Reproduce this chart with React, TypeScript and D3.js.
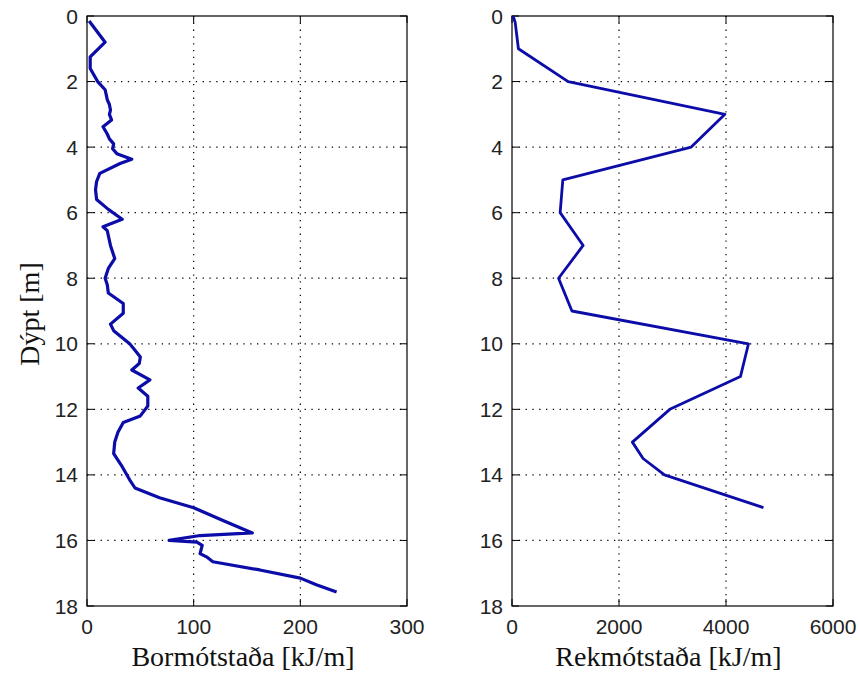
import React from "react";
import * as d3 from "d3";

const leftDepth = [0.15, 0.8, 1.25, 1.6, 2.0, 2.25, 2.4, 2.55, 2.7, 2.87, 3.0, 3.17, 3.38, 3.6, 3.75, 3.9, 4.05, 4.2, 4.37, 4.5, 4.8, 5.05, 5.3, 5.6, 5.9, 6.2, 6.43, 6.55, 6.7, 6.85, 7.0, 7.2, 7.4, 7.7, 8.0, 8.2, 8.45, 8.77, 9.07, 9.4, 9.6, 10.0, 10.2, 10.4, 10.6, 10.8, 11.1, 11.35, 11.6, 11.9, 12.2, 12.4, 12.7, 13.0, 13.35, 13.75, 14.15, 14.4, 14.7, 15.0, 15.4, 15.77, 15.85, 16.0, 16.05, 16.15, 16.4, 16.5, 16.65, 16.9, 17.15, 17.35, 17.57];
const leftValue = [2, 17, 3, 3, 10, 17, 18, 19, 21, 22, 21, 23, 15, 19, 21, 25, 24, 28, 42, 31, 12, 9, 8, 9, 20, 33, 15, 19, 20, 21, 22, 24, 26, 20, 17, 19, 20, 34, 34, 22, 25, 40, 45, 50, 49, 42, 59, 48, 57, 57, 50, 34, 29, 26, 25, 33, 40, 45, 68, 100, 128, 155, 106, 77, 103, 108, 106, 112, 118, 162, 200, 215, 234];

const rightDepth = [0, 0.2, 1, 2, 3, 4, 5, 6, 7, 8, 9, 10, 11, 12, 13, 13.5, 14, 15];
const rightValue = [20, 60, 120, 1050, 3980, 3350, 950, 900, 1330, 870, 1120, 4420, 4270, 2950, 2250, 2450, 2850, 4700];

const depthTicks = [0, 2, 4, 6, 8, 10, 12, 14, 16, 18];
const leftTicks = [0, 100, 200, 300];
const rightTicks = [0, 2000, 4000, 6000];

const LINE = "#0c0ca8";
const TOP = 16, BOTTOM = 606;

function Panel({ x0, x1, xMax, ticks, depth, values, label, lw }: any) {
  const x = d3.scaleLinear().domain([0, xMax]).range([x0, x1]);
  const y = d3.scaleLinear().domain([0, 18]).range([TOP, BOTTOM]);
  const pts: [number, number][] = depth.map((d: number, i: number) => [values[i], d]);
  const line = d3.line<[number, number]>().x((p) => x(p[0])).y((p) => y(p[1]));
  const tl = 7;
  return (
    <g>
      {ticks.slice(1, -1).map((t: number) => (
        <line key={"gx" + t} x1={x(t)} x2={x(t)} y1={TOP} y2={BOTTOM} stroke="#000" strokeWidth={1.2} strokeDasharray="1.3,5.5" />
      ))}
      {depthTicks.slice(1, -1).map((t) => (
        <line key={"gy" + t} x1={x0} x2={x1} y1={y(t)} y2={y(t)} stroke="#000" strokeWidth={1.2} strokeDasharray="1.3,5.5" />
      ))}
      {ticks.map((t: number) => (
        <g key={"tx" + t}>
          <line x1={x(t)} x2={x(t)} y1={TOP} y2={TOP + tl} stroke="#000" />
          <line x1={x(t)} x2={x(t)} y1={BOTTOM} y2={BOTTOM - tl} stroke="#000" />
          <text x={x(t)} y={634} textAnchor="middle" fontFamily="Liberation Sans, Arial, sans-serif" fontSize={21} fill="#222">{t}</text>
        </g>
      ))}
      {depthTicks.map((t) => (
        <g key={"ty" + t}>
          <line x1={x0} x2={x0 + tl} y1={y(t)} y2={y(t)} stroke="#000" />
          <line x1={x1} x2={x1 - tl} y1={y(t)} y2={y(t)} stroke="#000" />
          <text x={x0 - 9} y={y(t)} dy="0.36em" textAnchor="end" fontFamily="Liberation Sans, Arial, sans-serif" fontSize={21} fill="#222">{t}</text>
        </g>
      ))}
      <rect x={x0} y={TOP} width={x1 - x0} height={BOTTOM - TOP} fill="none" stroke="#000" strokeWidth={1.2} />
      <path d={line(pts) || ""} fill="none" stroke={LINE} strokeWidth={lw} strokeLinejoin="round" />
      <text x={(x0 + x1) / 2 - 4} y={666} textAnchor="middle" fontFamily="Liberation Serif, Times New Roman, serif" fontSize={28} fill="#111">{label}</text>
    </g>
  );
}

export default function App() {
  return (
    <svg width={860} height={674} style={{ position: "absolute", left: 0, top: 0, background: "#fff" }}>
      <rect x={0} y={0} width={860} height={674} fill="#fff" />
      <Panel x0={87} x1={407} xMax={300} ticks={leftTicks} depth={leftDepth} values={leftValue} label="Bormótstaða [kJ/m]" lw={3.2} />
      <Panel x0={512} x1={833} xMax={6000} ticks={rightTicks} depth={rightDepth} values={rightValue} label="Rekmótstaða [kJ/m]" lw={2.8} />
      <text transform="translate(39,314) rotate(-90)" textAnchor="middle" fontFamily="Liberation Serif, Times New Roman, serif" fontSize={28} fill="#111">Dýpt [m]</text>
    </svg>
  );
}
